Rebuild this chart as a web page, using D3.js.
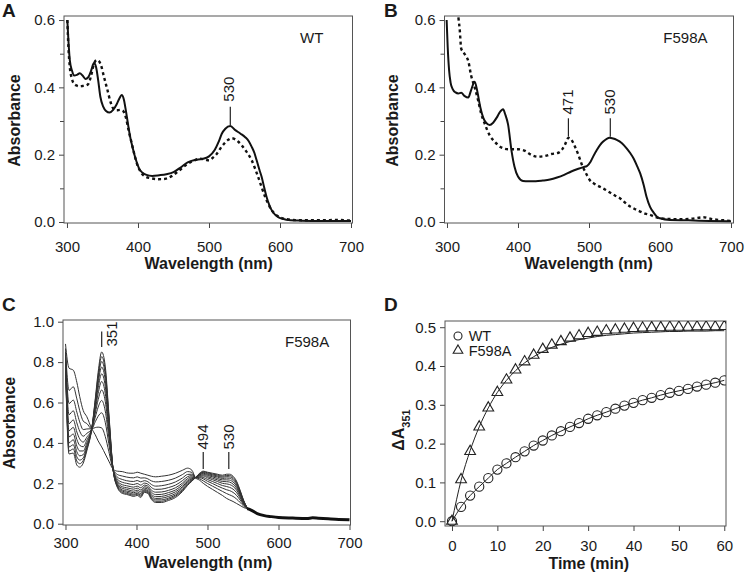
<!DOCTYPE html>
<html><head><meta charset="utf-8">
<script src="https://cdn.jsdelivr.net/npm/d3@7"></script>
<style>
body{margin:0;background:#fff}
svg text{font-family:'Liberation Sans',Arial,Helvetica,sans-serif;fill:#1a1a1a}
</style>
</head><body>
<svg id="fig" width="745" height="575"></svg>
<script>
// ---------------- DATA ----------------
// Panel A (WT) : solid and dotted spectra
const aSolidWl = [300.5,302,304,307,310,314,318,322,326,330,334,338,341,344,347,351,355,360,365,370,374,377,380,383,386,389,392,395,398,402,406,412,420,430,440,450,460,470,480,490,500,508,514,518,523,530,537,544,551,556,560,564,567,571,574,578,581,585,588,593,598,605,612,630,660,700];
const aSolid = [.60,.54,.48,.45,.435,.437,.442,.435,.425,.43,.45,.472,.46,.42,.372,.343,.33,.325,.333,.35,.368,.377,.365,.33,.29,.253,.225,.2,.179,.157,.147,.14,.137,.139,.142,.148,.162,.177,.184,.187,.195,.214,.24,.262,.277,.285,.273,.263,.252,.24,.224,.205,.184,.155,.135,.1,.075,.05,.036,.022,.014,.009,.006,.004,.003,.003];
const aDotWl = [300.5,302,304,307,310,314,318,322,326,330,334,338,342,345,348,352,357,362,366,370,375,379,383,387,391,395,399,404,410,418,428,438,448,458,468,478,488,495,500,505,510,518,527,532,541,551,560,569,579,588,598,610,630,660,680,700];
const aDotted = [.60,.52,.46,.425,.41,.405,.403,.404,.405,.41,.435,.47,.481,.478,.465,.432,.392,.352,.335,.332,.333,.33,.31,.27,.235,.2,.17,.148,.135,.13,.127,.128,.137,.153,.17,.182,.188,.185,.183,.19,.2,.224,.244,.249,.239,.214,.184,.135,.075,.036,.016,.008,.005,.005,.006,.004];

// Panel B (F598A)
const bSolidWl = [299.5,301,303,305,308,312,316,320,325,330,334,339,343,347,351,355,360,365,370,374,379,382,386,391,395,400,407,415,425,435,445,455,465,475,485,492,497,502,506,511,516,520,525,529,534,539,546,553,558,563,568,572,577,581,586,591,596,600,614,640,670,700];
const bSolid = [.6,.52,.45,.415,.395,.385,.382,.384,.374,.37,.392,.417,.385,.34,.31,.295,.288,.295,.31,.325,.335,.32,.29,.21,.165,.135,.122,.121,.121,.123,.126,.132,.14,.15,.158,.163,.166,.178,.195,.214,.23,.239,.247,.25,.248,.244,.235,.219,.205,.188,.165,.145,.11,.075,.045,.028,.015,.011,.006,.005,.003,.002];
const bDotWl = [312,316.5,318,320,323,326,330,334,339,344,348,353,360,367,376,386,400,409,419,428,438,447,456,462,466,471,475,480,485,490,495,501,508,515,523,530,537,544,551,558,565,572,579,586,593,600,614,628,645,661,675,690,700];
const bDotted = [.66,.6,.57,.515,.505,.495,.478,.435,.4,.36,.323,.293,.258,.239,.222,.216,.216,.212,.199,.194,.196,.202,.205,.215,.229,.25,.245,.225,.2,.17,.148,.125,.113,.105,.096,.087,.078,.07,.057,.046,.038,.031,.025,.021,.015,.011,.009,.008,.01,.014,.008,.005,.003];

// Panel C (F598A time course spectra)
const cWl = [300,305,311,316,320,325,330,337,342,346,351,356,361,367,373,380,386,391,396,401,406,411,416,421,427,435,445,455,465,472,478,483,489,494,500,507,514,521,527,531,536,541,546,551,556,560];
const c0 = [.89,.77,.76,.70,.63,.56,.53,.47,.44,.41,.38,.345,.31,.27,.26,.258,.252,.25,.25,.255,.25,.245,.24,.235,.232,.235,.24,.25,.265,.275,.265,.228,.215,.2,.185,.17,.155,.14,.125,.118,.11,.1,.09,.08,.074,.07];
const c1 = [.868,.66,.678,.618,.56,.508,.496,.47,.476,.478,.474,.432,.358,.27,.244,.236,.231,.228,.227,.232,.226,.227,.222,.212,.207,.209,.215,.226,.244,.258,.254,.228,.222,.212,.199,.186,.173,.16,.149,.143,.135,.122,.105,.087,.075,.07];
const c2 = [.85,.595,.612,.552,.504,.466,.469,.47,.505,.532,.549,.502,.396,.27,.231,.219,.213,.21,.209,.214,.207,.213,.208,.194,.186,.188,.195,.207,.227,.244,.245,.228,.228,.222,.21,.199,.187,.176,.168,.164,.155,.14,.117,.093,.076,.07];
const c3 = [.836,.54,.559,.499,.458,.433,.447,.47,.528,.577,.61,.558,.428,.27,.221,.205,.2,.196,.194,.199,.191,.201,.196,.179,.17,.171,.179,.191,.214,.233,.238,.228,.232,.229,.219,.209,.199,.189,.184,.18,.171,.154,.127,.097,.077,.07];
const c4 = [.824,.495,.514,.454,.42,.404,.428,.47,.548,.614,.662,.606,.454,.27,.212,.193,.188,.184,.181,.186,.178,.191,.186,.166,.156,.157,.165,.178,.202,.224,.232,.228,.236,.236,.227,.218,.209,.2,.197,.194,.185,.166,.135,.101,.078,.07];
const c5 = [.814,.46,.477,.417,.388,.381,.413,.47,.564,.645,.704,.645,.476,.27,.205,.183,.178,.174,.171,.176,.167,.183,.178,.156,.144,.145,.154,.167,.193,.216,.227,.228,.239,.241,.233,.225,.217,.209,.208,.206,.196,.176,.142,.104,.078,.07];
const c6 = [.805,.43,.444,.384,.36,.36,.399,.47,.579,.672,.742,.68,.495,.27,.198,.175,.17,.165,.161,.166,.158,.176,.171,.146,.134,.135,.144,.158,.184,.21,.223,.228,.242,.246,.239,.232,.224,.217,.217,.216,.206,.185,.148,.107,.079,.07];
const c7 = [.798,.40,.416,.356,.336,.342,.387,.47,.591,.696,.775,.71,.512,.27,.193,.167,.162,.158,.153,.158,.149,.169,.164,.138,.125,.126,.135,.149,.177,.204,.219,.228,.244,.25,.244,.237,.231,.224,.226,.225,.215,.192,.153,.109,.079,.07];
const c8 = [.791,.38,.391,.331,.315,.326,.377,.47,.602,.716,.803,.737,.526,.27,.188,.161,.156,.151,.146,.151,.142,.164,.159,.131,.118,.118,.127,.142,.17,.198,.215,.228,.247,.254,.248,.242,.236,.23,.233,.232,.223,.199,.158,.112,.079,.07];
const c9 = [.786,.36,.37,.31,.297,.313,.368,.47,.611,.733,.827,.758,.538,.27,.184,.155,.15,.145,.141,.146,.136,.159,.154,.126,.111,.111,.121,.136,.165,.194,.213,.228,.248,.257,.252,.246,.241,.235,.239,.239,.229,.205,.161,.113,.08,.07];
const c10 = [.78,.345,.35,.29,.28,.30,.36,.47,.62,.75,.85,.78,.55,.27,.18,.15,.145,.14,.135,.14,.13,.155,.15,.12,.105,.105,.115,.13,.16,.19,.21,.228,.25,.26,.255,.25,.245,.24,.245,.245,.235,.21,.165,.115,.08,.07];
const cSpectra = [c0,c1,c2,c3,c4,c5,c6,c7,c8,c9,c10];
const cTailWl = [556,560,570,580,590,600,620,640,648,656,670,685,700];
const cTail = [.075,.07,.05,.04,.035,.031,.028,.026,.029,.027,.024,.021,.019];

// Panel D (kinetics)
const dTime = [0,2,4,6,8,10,12,14,16,18,20,22,24,26,28,30,32,34,36,38,40,42,44,46,48,50,52,54,56,58,60];
const dWT = [0,.037,.066,.089,.111,.133,.149,.165,.18,.195,.208,.221,.232,.243,.253,.264,.273,.281,.29,.298,.305,.312,.318,.325,.331,.336,.341,.347,.352,.357,.363];
const dF598A = [0,.107,.18,.243,.292,.332,.364,.39,.411,.428,.443,.454,.463,.472,.478,.484,.487,.491,.493,.495,.497,.498,.499,.499,.5,.5,.5,.501,.501,.501,.502];
const dF598AFit = [0,.105,.182,.243,.292,.332,.363,.388,.408,.424,.437,.448,.456,.463,.468,.472,.476,.479,.481,.483,.485,.486,.487,.488,.489,.489,.49,.49,.49,.491,.491];
const dLegend = ["WT","F598A"];

// Ticks & labels
const wlTicks = [300,400,500,600,700];
const absTicksAB = [0,0.2,0.4,0.6];
const absMinorAB = [0.1,0.3,0.5];
const absTicksC = [0,0.2,0.4,0.6,0.8,1.0];
const dTimeTicks = [0,10,20,30,40,50,60];
const dAbsTicks = [0,0.1,0.2,0.3,0.4,0.5];
const peaksA = [530];
const peaksB = [471,530];
const peaksC = [494,530];
const peakC351 = 351;

// ---------------- DRAWING ----------------
const svg = d3.select('#fig');
const FONT = "'Liberation Sans',Arial,Helvetica,sans-serif";
const INK = '#1a1a1a';

function panel(p){
  const x = d3.scaleLinear().domain(p.xDomain).range([p.left,p.right]);
  const y = d3.scaleLinear().domain(p.yDomain).range([p.bottom,p.top]);
  const g = svg.append('g');
  svg.append('clipPath').attr('id','clip'+p.id).append('rect')
    .attr('x',p.left).attr('y',p.top).attr('width',p.right-p.left).attr('height',p.bottom-p.top);
  g.append('g').attr('class','xaxis').attr('transform',`translate(0,${p.bottom})`)
    .call(d3.axisBottom(x).tickValues(p.xTicks).tickSize(5).tickPadding(p.xPad).tickFormat(d3.format('d')));
  g.append('g').attr('transform',`translate(${p.left},0)`)
    .call(d3.axisLeft(y).tickValues(p.yTicks).tickSize(5).tickPadding(4).tickFormat(d3.format('.1f')));
  if(p.yMinor){
    g.append('g').attr('transform',`translate(${p.left},0)`)
      .call(d3.axisLeft(y).tickValues(p.yMinor).tickSize(4).tickFormat(''));
  }
  g.selectAll('.domain').remove();
  g.selectAll('.tick line').attr('stroke','#444').attr('stroke-width',1);
  g.selectAll('.tick text').attr('font-size',15).attr('font-family',FONT).attr('fill',INK);
  g.append('rect').attr('x',p.left).attr('y',p.top).attr('width',p.right-p.left).attr('height',p.bottom-p.top)
    .attr('fill','none').attr('stroke','#555').attr('stroke-width',1);
  // titles
  g.append('text').attr('x',p.xTitle[0]).attr('y',p.xTitle[1]).attr('text-anchor','middle')
    .attr('font-size',16).attr('font-weight','bold').text(p.xLabel);
  const yt = g.append('text').attr('transform',`translate(${p.yTitle[0]},${p.yTitle[1]}) rotate(-90)`)
    .attr('text-anchor','middle').attr('dy','0.35em').attr('font-size',16).attr('font-weight','bold');
  if(p.yLabelSub){
    yt.append('tspan').text(p.yLabel);
    yt.append('tspan').attr('font-size',11).attr('baseline-shift','sub').text(p.yLabelSub);
  } else yt.text(p.yLabel);
  svg.append('text').attr('x',p.letter[0]).attr('y',p.letter[1]).attr('font-size',19)
    .attr('font-weight','bold').text(p.id);
  const plot = g.append('g').attr('clip-path',`url(#clip${p.id})`);
  return {x,y,g,plot};
}

function drawLine(P, xs, ys, style){
  const line = d3.line().x(d=>P.x(d[0])).y(d=>P.y(d[1])).curve(d3.curveMonotoneX);
  const path = P.plot.append('path').datum(d3.zip(xs,ys)).attr('d',line)
    .attr('fill','none').attr('stroke',style.color||'#111').attr('stroke-width',style.width||2)
    .attr('stroke-linejoin','round');
  if(style.dash) path.attr('stroke-dasharray',style.dash);
  return path;
}

function peakLabel(P, wl, lineY0, lineY1, textY, dx){
  const px = P.x(wl);
  P.g.append('line').attr('x1',px).attr('x2',px).attr('y1',lineY0).attr('y2',lineY1)
    .attr('stroke','#222').attr('stroke-width',1.2);
  P.g.append('text').attr('transform',`translate(${px+(dx||0)},${textY}) rotate(-90)`)
    .attr('text-anchor','middle').attr('dy','0.35em').attr('font-size',15).text(wl);
}

// Panel A
const A = panel({id:'A',left:64,right:352.5,top:16,bottom:223,xDomain:[295.8,702.1],yDomain:[-0.003,0.612],
  xTicks:wlTicks,yTicks:absTicksAB,yMinor:absMinorAB,xPad:13,
  xLabel:'Wavelength (nm)',yLabel:'Absorbance',xTitle:[208.7,269],yTitle:[14.2,120.5],letter:[2,17]});
drawLine(A, aDotWl, aDotted, {width:2.4,dash:'3,3'});
drawLine(A, aSolidWl, aSolid, {width:2});
A.g.append('text').attr('x',300).attr('y',43.3).attr('font-size',15).text('WT');
peaksA.forEach(w=>peakLabel(A,w,106.7,125,89.2,-1.5));

// Panel B
const B = panel({id:'B',left:444.5,right:733.5,top:16,bottom:223,xDomain:[296.5,703.5],yDomain:[-0.003,0.612],
  xTicks:wlTicks,yTicks:absTicksAB,yMinor:absMinorAB,xPad:13,
  xLabel:'Wavelength (nm)',yLabel:'Absorbance',xTitle:[588.7,269],yTitle:[392.8,120.5],letter:[384,17]});
drawLine(B, bDotWl, bDotted, {width:2.4,dash:'3,3'});
drawLine(B, bSolidWl, bSolid, {width:2});
B.g.append('text').attr('x',663.3).attr('y',43.3).attr('font-size',15).text('F598A');
peaksB.forEach(w=>peakLabel(B,w,118.3,136.7,102,-1));

// Panel C
const C = panel({id:'C',left:63,right:350.5,top:320,bottom:525,xDomain:[296.5,701.4],yDomain:[-0.0064,1.0084],
  xTicks:wlTicks,yTicks:absTicksC,xPad:7.5,
  xLabel:'Wavelength (nm)',yLabel:'Absorbance',xTitle:[208.3,568],yTitle:[9.5,423],letter:[2,311]});
cSpectra.forEach((s,i)=>drawLine(C, cWl, s, {width:1,color:'#333'}));
drawLine(C, cTailWl, cTail, {width:3,color:'#111'});
C.g.append('text').attr('x',285).attr('y',347.3).attr('font-size',15).text('F598A');
{
  const px = C.x(peakC351);
  C.g.append('line').attr('x1',px).attr('x2',px).attr('y1',331.5).attr('y2',347).attr('stroke','#222').attr('stroke-width',1.2);
  C.g.append('text').attr('transform',`translate(${px+10},334) rotate(-90)`).attr('text-anchor','middle')
    .attr('dy','0.35em').attr('font-size',15).text(peakC351);
}
peaksC.forEach(w=>peakLabel(C,w,452,469,437,0));

// Panel D
const D = panel({id:'D',left:445,right:726,top:321,bottom:526,xDomain:[-1.54,60.38],yDomain:[-0.0124,0.516],
  xTicks:dTimeTicks,yTicks:dAbsTicks,xPad:9.5,
  xLabel:'Time (min)',yLabel:'ΔA',yLabelSub:'351',xTitle:[588.7,569],yTitle:[398,430],letter:[384,311]});
D.g.select('.xaxis').selectAll('.tick text').text(d=>d3.format('d')(d));
const lineD = d3.line().x(d=>D.x(d[0])).y(d=>D.y(d[1])).curve(d3.curveMonotoneX);
D.plot.append('path').datum(d3.zip(dTime,dWT)).attr('d',lineD)
  .attr('fill','none').attr('stroke','#222').attr('stroke-width',1);
D.plot.append('path').datum(d3.zip(dTime,dF598AFit)).attr('d',lineD)
  .attr('fill','none').attr('stroke','#222').attr('stroke-width',1);
D.plot.selectAll('circle.wt').data(d3.zip(dTime,dWT)).join('circle').attr('class','wt')
  .attr('cx',d=>D.x(d[0])).attr('cy',d=>D.y(d[1])).attr('r',4.6)
  .attr('fill','none').attr('stroke','#222').attr('stroke-width',1.1);
const tri = d3.symbol().type(d3.symbolTriangle).size(50);
D.plot.selectAll('path.tri').data(d3.zip(dTime,dF598A)).join('path').attr('class','tri')
  .attr('d',tri).attr('transform',d=>`translate(${D.x(d[0])},${D.y(d[1])})`)
  .attr('fill','none').attr('stroke','#222').attr('stroke-width',1.1);
// legend
D.g.append('circle').attr('cx',458).attr('cy',336).attr('r',4).attr('fill','none').attr('stroke','#222').attr('stroke-width',1.1);
D.g.append('path').attr('d',d3.symbol().type(d3.symbolTriangle).size(40)).attr('transform','translate(458,350.5)')
  .attr('fill','none').attr('stroke','#222').attr('stroke-width',1.1);
D.g.append('text').attr('x',468.7).attr('y',340.5).attr('font-size',14.5).text(dLegend[0]);
D.g.append('text').attr('x',468.7).attr('y',355.5).attr('font-size',14.5).text(dLegend[1]);
</script>
</body></html>
